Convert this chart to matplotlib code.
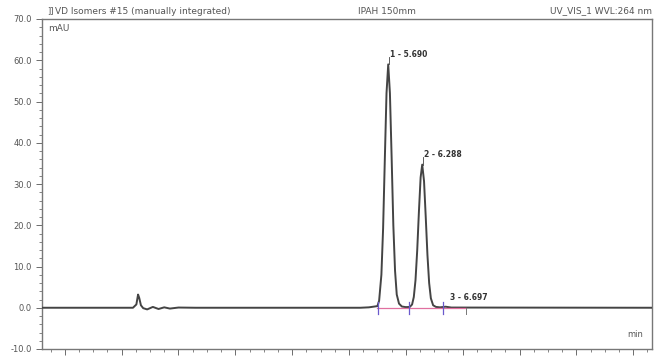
import matplotlib
matplotlib.use("Agg")
import matplotlib.pyplot as plt
from matplotlib.ticker import MultipleLocator

# ---- data ----
times = [-0.4, 1.20, 1.26, 1.29, 1.31, 1.34, 1.38, 1.45, 1.55, 1.65, 1.75, 1.85, 2.0, 2.3,
         5.20, 5.35, 5.45, 5.50, 5.53, 5.57, 5.60, 5.63, 5.66, 5.69, 5.72, 5.75, 5.78, 5.81,
         5.84, 5.88, 5.93, 6.00, 6.07, 6.11, 6.14, 6.17, 6.20, 6.23, 6.26, 6.288, 6.32, 6.35,
         6.38, 6.41, 6.44, 6.48, 6.53, 6.60, 6.70, 6.80, 10.33]
signal = [0, 0, 0.8, 3.2, 2.4, 0.6, -0.1, -0.4, 0.2, -0.3, 0.1, -0.2, 0.05, 0,
          0, 0.1, 0.3, 0.4, 1.7, 8.0, 19.2, 35.8, 52.0, 59.0, 52.0, 36.5, 20.0, 9.0,
          3.2, 1.0, 0.3, 0.15, 0.2, 0.8, 2.6, 6.7, 13.9, 23.3, 31.6, 34.7, 30.7, 22.0,
          12.8, 6.0, 2.3, 0.6, 0.2, 0.1, 0.25, 0.05, 0]

peak_labels = ["1 - 5.690", "2 - 6.288", "3 - 6.697"]
peak_times = [5.690, 6.288, 6.697]
peak_heights = [59.0, 34.7, 0.25]
delimiters = [5.51, 6.06, 6.66]
baseline_range = [5.50, 7.05]

title_left = "VD Isomers #15 (manually integrated)"
title_mid = "IPAH 150mm"
title_right = "UV_VIS_1 WVL:264 nm"
y_unit = "mAU"
x_unit = "min"

# ---- figure ----
fig = plt.figure(figsize=(6.67, 3.56), dpi=100)
ax = fig.add_axes([42/667, 1-349/356, 610/667, 330/356])
ax.set_xlim(-0.4, 10.33)
ax.set_ylim(-10, 70)

grey = "#555555"
ax.plot(times, signal, color="#444444", lw=1.4, zorder=3)

# integration baseline and delimiters
ax.plot(baseline_range, [0, 0], color="#e070a0", lw=0.9, zorder=4)
for d in delimiters:
    ax.plot([d, d], [-1.4, 1.4], color="#6a5acd", lw=0.9, zorder=5)
ax.plot([baseline_range[1], baseline_range[1]], [-1.6, 0], color="#777777", lw=0.7, zorder=5)

# peak labels
for lab, t, h in zip(peak_labels, peak_times, peak_heights):
    yl = h + 1.3 if h > 5 else 1.5
    xl = t + 0.04 if h > 5 else t + 0.08
    if h > 5:
        ax.plot([t + 0.02, t + 0.02], [h, h + 1.8], color="#444444", lw=0.6)
    ax.text(xl, yl, lab, fontsize=5.5, color="#333333", fontweight="bold",
            ha="left", va="bottom", family="DejaVu Sans")

for s in ["top", "right", "left", "bottom"]:
    ax.spines[s].set_color("#777777")
    ax.spines[s].set_linewidth(1.0)

ax.yaxis.set_major_locator(MultipleLocator(10))
ax.yaxis.set_minor_locator(MultipleLocator(2))
ax.xaxis.set_major_locator(MultipleLocator(1))
ax.xaxis.set_minor_locator(MultipleLocator(0.25))
ax.set_yticks(range(-10, 71, 10))
ax.set_yticklabels([f"{v:.1f}" for v in range(-10, 71, 10)])
ax.tick_params(axis="y", which="major", length=4, width=0.6, colors=grey, labelsize=6)
ax.tick_params(axis="y", which="minor", length=2, width=0.5, colors=grey)
ax.tick_params(axis="x", which="major", length=4, width=0.6, colors=grey, labelbottom=False)
ax.tick_params(axis="x", which="minor", length=2, width=0.5, colors=grey)

ax.text(0.01, 0.985, y_unit, transform=ax.transAxes, fontsize=6.5, color=grey,
        ha="left", va="top")
ax.text(0.985, 0.03, x_unit, transform=ax.transAxes, fontsize=6, color=grey,
        ha="right", va="bottom")

fig.text(55/667, 1-11/356, title_left, fontsize=6.5, color=grey, ha="left", va="center")
fig.text(47/667, 1-11/356, "]]", fontsize=6, color=grey, ha="left", va="center")
fig.text(358/667, 1-11/356, title_mid, fontsize=6.5, color=grey, ha="left", va="center")
fig.text(652/667, 1-11/356, title_right, fontsize=6.5, color=grey, ha="right", va="center")

fig.savefig("out.png", dpi=100)
